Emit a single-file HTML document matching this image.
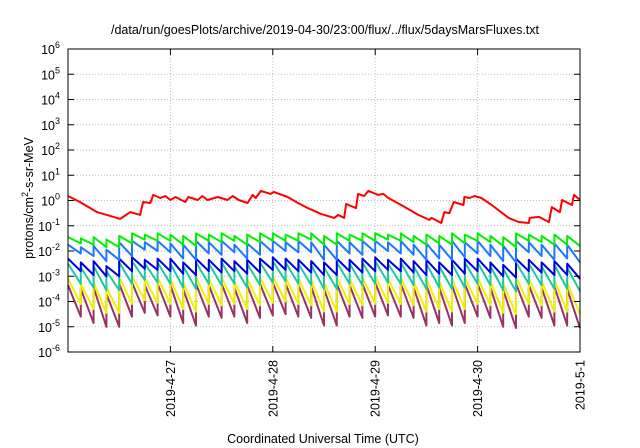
<!DOCTYPE html>
<html><head><meta charset="utf-8">
<style>
html,body{margin:0;padding:0;background:#fff;}
svg{display:block;font-family:"Liberation Sans",Arial,sans-serif;}
</style></head>
<body>
<svg id="chart" width="640" height="448" viewBox="0 0 640 448" xmlns="http://www.w3.org/2000/svg">
  <text x="325" y="34" font-size="12.5" text-anchor="middle" fill="#000">/data/run/goesPlots/archive/2019-04-30/23:00/flux/../flux/5daysMarsFluxes.txt</text>
  <g id="grid"></g>
  <g id="series"></g>
  <rect x="68" y="49" width="512" height="303" fill="none" stroke="#000" stroke-width="1"/>
  <g id="axes"></g>
  <text transform="translate(33,198) rotate(-90)" font-size="12.5" text-anchor="middle">protons/cm<tspan baseline-shift="super" font-size="9">2</tspan>-s-sr-MeV</text>
  <text x="323" y="443" font-size="12.5" text-anchor="middle">Coordinated Universal Time (UTC)</text>
</svg>
<script>
// x-axis: hours since 2019-04-26 00:00 UTC; y values are log10(flux)
const xTickHours = [24, 48, 72, 96, 120];
const xTickLabels = ["2019-4-27", "2019-4-28", "2019-4-29", "2019-4-30", "2019-5-1"];
const yTickExps = [-6,-5,-4,-3,-2,-1,0,1,2,3,4,5,6];

const redHours = [0,2.8,6.8,9.9,12.2,14.6,16.9,17.6,19.3,20,21.6,22.8,24,25.2,27.5,28.2,30.4,31.5,32.7,35.1,37.4,38.6,40,42.1,43.3,44,45.2,47.5,48.2,51.5,53.9,56.2,59.3,62.4,63.3,64.7,65.2,67.5,68,69.4,70.4,72.7,73.9,75.1,78.1,82.1,84.7,85.2,87.5,88.2,89.4,90.4,92.7,92.9,94.1,95.3,96.9,99.3,103.3,105.6,108,108.2,110.4,112.7,113.4,115.3,115.8,118.1,118.6,120];
const redLog = [0.18,-0.06,-0.46,-0.61,-0.73,-0.46,-0.57,-0.06,-0.1,0.22,0.1,0.18,0.02,0.14,-0.06,0.14,0.02,0.18,0.02,0.14,0.02,0.18,0.02,-0.1,0.22,0.1,0.38,0.26,0.34,0.14,-0.1,-0.3,-0.53,-0.69,-0.57,-0.69,-0.14,-0.3,0.26,0.18,0.38,0.22,0.26,0.1,-0.18,-0.57,-0.77,-0.69,-0.89,-0.46,-0.5,-0.06,-0.18,0.14,0.1,0.18,0.1,-0.18,-0.69,-0.85,-0.89,-0.69,-0.65,-0.85,-0.26,-0.46,0.02,-0.18,0.22,0.02];

// sawtooth injection times (hours): each tooth rises at toothHours[k] and decays until toothHours[k+1]
const toothHours = [0,3,6,9,12,15,18,21,24,27,30,33,36,39,42,45,48,51,54,57,60,63,66,69,72,75,78,81,84,87,90,93,96,99,102,105,108,111,114,117,120];

const greenPeak =  [-1.45,-1.5,-1.45,-1.55,-1.4,-1.3,-1.35,-1.3,-1.35,-1.4,-1.3,-1.35,-1.3,-1.4,-1.35,-1.3,-1.3,-1.35,-1.3,-1.3,-1.4,-1.3,-1.35,-1.3,-1.3,-1.35,-1.3,-1.4,-1.35,-1.4,-1.3,-1.35,-1.3,-1.4,-1.45,-1.3,-1.35,-1.4,-1.35,-1.4];
const greenTrough =[-1.7,-1.75,-1.85,-1.85,-1.7,-1.55,-1.6,-1.6,-1.75,-1.8,-1.6,-1.65,-1.6,-1.75,-1.65,-1.6,-1.6,-1.6,-1.55,-1.75,-1.75,-1.6,-1.6,-1.6,-1.55,-1.6,-1.65,-1.75,-1.7,-1.75,-1.7,-1.6,-1.65,-1.8,-1.85,-1.6,-1.65,-1.75,-1.75,-1.8];
const lblueTrough = [-2.1,-2.2,-2.4,-2.35,-2.2,-1.95,-2.0,-2.05,-2.3,-2.35,-2.1,-2.15,-2.05,-2.3,-2.15,-2.05,-2.0,-2.05,-2.05,-2.35,-2.35,-2.1,-2.15,-2.05,-2.0,-2.1,-2.15,-2.35,-2.3,-2.35,-2.25,-2.1,-2.2,-2.4,-2.45,-2.05,-2.2,-2.35,-2.3,-2.45];
const lbluePeak =  [-1.75,-1.85,-1.8,-1.95,-1.65,-1.6,-1.65,-1.6,-1.7,-1.75,-1.6,-1.65,-1.6,-1.75,-1.7,-1.6,-1.6,-1.65,-1.6,-1.65,-1.75,-1.6,-1.65,-1.6,-1.6,-1.65,-1.6,-1.75,-1.7,-1.75,-1.6,-1.65,-1.6,-1.75,-1.8,-1.6,-1.65,-1.75,-1.7,-1.75];
const dbluePeak =  [-2.3,-2.45,-2.4,-2.6,-2.3,-2.25,-2.35,-2.3,-2.3,-2.45,-2.3,-2.35,-2.3,-2.4,-2.35,-2.3,-2.25,-2.3,-2.35,-2.4,-2.45,-2.3,-2.35,-2.3,-2.25,-2.35,-2.3,-2.4,-2.35,-2.45,-2.35,-2.3,-2.3,-2.45,-2.55,-2.3,-2.35,-2.45,-2.4,-2.5];
const dblueTrough =[-2.8,-2.95,-3.0,-3.0,-2.8,-2.7,-2.75,-2.8,-2.9,-2.95,-2.8,-2.85,-2.8,-2.9,-2.85,-2.75,-2.75,-2.8,-2.85,-2.95,-2.95,-2.8,-2.85,-2.8,-2.75,-2.8,-2.85,-2.95,-2.9,-2.95,-2.9,-2.8,-2.85,-3.0,-3.05,-2.8,-2.85,-2.95,-2.95,-3.1];
const tealPeak =   [-2.5,-2.65,-2.6,-2.8,-2.45,-2.4,-2.5,-2.45,-2.5,-2.6,-2.45,-2.5,-2.45,-2.6,-2.5,-2.45,-2.4,-2.45,-2.5,-2.55,-2.65,-2.45,-2.5,-2.45,-2.4,-2.5,-2.45,-2.6,-2.5,-2.6,-2.5,-2.45,-2.45,-2.6,-2.7,-2.45,-2.5,-2.6,-2.55,-2.65];
const tealTrough = [-3.3,-3.45,-3.55,-3.55,-3.3,-3.15,-3.25,-3.3,-3.45,-3.5,-3.3,-3.35,-3.3,-3.45,-3.35,-3.25,-3.2,-3.3,-3.35,-3.5,-3.5,-3.3,-3.35,-3.3,-3.25,-3.3,-3.35,-3.5,-3.45,-3.5,-3.45,-3.3,-3.35,-3.55,-3.6,-3.3,-3.35,-3.5,-3.5,-3.6];
const yellowPeak = [-3.1,-3.3,-3.25,-3.45,-3.05,-3.0,-3.1,-3.05,-3.1,-3.25,-3.05,-3.1,-3.05,-3.2,-3.1,-3.05,-3.0,-3.05,-3.1,-3.15,-3.25,-3.05,-3.1,-3.05,-3.0,-3.1,-3.05,-3.2,-3.1,-3.2,-3.1,-3.05,-3.05,-3.2,-3.3,-3.05,-3.1,-3.2,-3.15,-3.25];
const yellowTrough=[-4.1,-4.3,-4.45,-4.45,-4.1,-3.95,-4.05,-4.1,-4.3,-4.4,-4.1,-4.15,-4.1,-4.3,-4.15,-4.05,-4.0,-4.1,-4.15,-4.4,-4.4,-4.1,-4.15,-4.1,-4.05,-4.1,-4.15,-4.4,-4.3,-4.4,-4.3,-4.1,-4.15,-4.45,-4.5,-4.1,-4.15,-4.4,-4.4,-4.5];
const purplePeak = [-3.35,-3.5,-3.45,-3.7,-3.3,-3.25,-3.35,-3.3,-3.35,-3.5,-3.3,-3.35,-3.3,-3.45,-3.35,-3.3,-3.25,-3.3,-3.35,-3.4,-3.5,-3.3,-3.35,-3.3,-3.25,-3.35,-3.3,-3.45,-3.35,-3.45,-3.35,-3.3,-3.3,-3.45,-3.55,-3.3,-3.35,-3.45,-3.4,-3.5];
const purpleTrough=[-4.6,-4.85,-5.0,-5.0,-4.6,-4.45,-4.55,-4.6,-4.85,-4.95,-4.6,-4.65,-4.6,-4.85,-4.65,-4.55,-4.5,-4.6,-4.65,-4.95,-4.95,-4.6,-4.65,-4.6,-4.55,-4.6,-4.65,-4.95,-4.85,-4.95,-4.85,-4.6,-4.65,-5.0,-5.05,-4.6,-4.65,-4.95,-4.95,-5.05];

const PL=68, PR=580, PT=49, PB=352;
const xMin=0, xMax=120, yMin=-6, yMax=6;
function xScale(h){return PL+(h-xMin)/(xMax-xMin)*(PR-PL);}
function yScale(e){return PB-(e-yMin)/(yMax-yMin)*(PB-PT);}
const NS="http://www.w3.org/2000/svg";
function mk(tag,attrs,parent){const el=document.createElementNS(NS,tag);for(const k in attrs)el.setAttribute(k,attrs[k]);parent.appendChild(el);return el;}

const grid=document.getElementById('grid'), axes=document.getElementById('axes'), series=document.getElementById('series');
yTickExps.forEach(function(e){
  const y=yScale(e);
  if(e>yMin&&e<yMax){
    const g=mk('line',{x1:PL,x2:PR,y1:y,y2:y,stroke:'#aaa','stroke-width':0.7,'stroke-dasharray':'1,2'},grid);
    
    
  }
  const t1=mk('line',{x1:PL,x2:PL+6,y1:y,y2:y,stroke:'#000'},axes);
  
  
  const t2=mk('line',{x1:PR-6,x2:PR,y1:y,y2:y,stroke:'#000'},axes);
  
  
  const lab=mk('text',{x:PL-8,y:y+5,'font-size':12.5,'text-anchor':'end'},axes);
  
  
  lab.textContent='10';
  const sup=mk('tspan',{dy:-6,'font-size':9},lab);
  sup.textContent=String(e);
});
xTickHours.forEach(function(h,i){
  const x=xScale(h);
  if(h<xMax){
    const g=mk('line',{x1:x,x2:x,y1:PT,y2:PB,stroke:'#aaa','stroke-width':0.7,'stroke-dasharray':'1,2'},grid);
    
    
  }
  const t1=mk('line',{x1:x,x2:x,y1:PB,y2:PB-6,stroke:'#000'},axes);
  
  
  const t2=mk('line',{x1:x,x2:x,y1:PT,y2:PT+6,stroke:'#000'},axes);
  
  
  const lab=mk('text',{transform:'translate('+(x+4.5)+',360) rotate(-90)','font-size':12.5,'text-anchor':'end'},axes);
  
  
  lab.textContent=xTickLabels[i];
});

function sawPts(peaks,troughs){
  const pts=[];
  for(let k=0;k<peaks.length;k++){
    pts.push([toothHours[k],peaks[k]]);
    pts.push([toothHours[k+1],troughs[k]]);
  }
  return pts;
}
const defs=[
  ['series-purple','#993366',sawPts(purplePeak,purpleTrough)],
  ['series-yellow','#f0f000',sawPts(yellowPeak,yellowTrough)],
  ['series-teal','#20c8a0',sawPts(tealPeak,tealTrough)],
  ['series-dark-blue','#0000e0',sawPts(dbluePeak,dblueTrough)],
  ['series-light-blue','#1e78ff',sawPts(lbluePeak,lblueTrough)],
  ['series-green','#00f000',sawPts(greenPeak,greenTrough)],
  ['series-red','#ff0000',redHours.map(function(h,i){return [h,redLog[i]];})]
];
defs.forEach(function(d){
  const p=mk('polyline',{points:d[2].map(function(q){return xScale(q[0]).toFixed(1)+','+yScale(q[1]).toFixed(1);}).join(' '),fill:'none',stroke:d[1],'stroke-width':2,'stroke-linejoin':'round'},series);
  
  
});
</script>
</body></html>
